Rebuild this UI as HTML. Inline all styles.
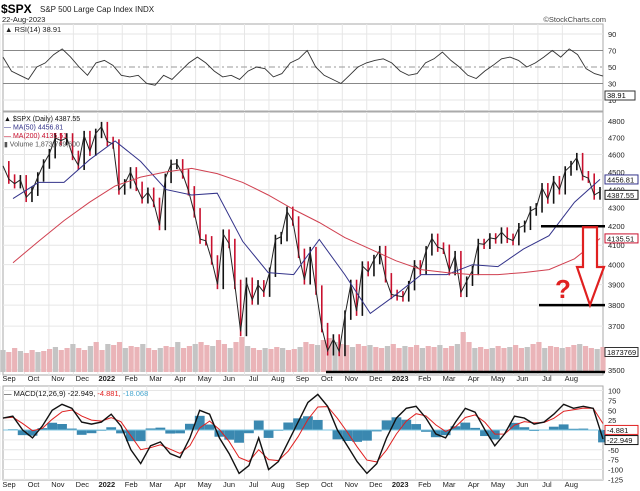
<!DOCTYPE html>
<html><head><meta charset="utf-8"><style>
body{margin:0;background:#fff;width:640px;height:491px;overflow:hidden;font-family:"Liberation Sans",sans-serif}
svg{display:block}
</style></head><body>
<svg id="c" width="640" height="491" viewBox="0 0 640 491" xmlns="http://www.w3.org/2000/svg" font-family="Liberation Sans, sans-serif"></svg>
<script>
const closes=[4535,4459,4433,4455,4357,4391,4471,4545,4605,4697,4682,4698,4595,4538,4712,4620,4725,4766,
4677,4662,4398,4432,4500,4418,4349,4385,4329,4204,4463,4543,4546,4488,4393,4272,4132,4123,4024,3901,4158,4109,3901,3675,3912,3825,3899,3863,3962,4130,4145,4280,4228,4058,3924,4067,3873,3693,3586,3640,3583,3752,3901,3771,3993,3965,4026,4072,3934,3852,3845,3840,
3895,3999,3973,4071,4136,4090,4079,3970,4046,3862,3917,3971,4109,4105,4138,4133,4169,4136,4124,4192,4205,4282,4299,4410,4348,4450,4399,4505,4536,4582,4478,4464,4370,4388];
const ma50=[4350,4440,4440,4570,4680,4560,4400,4370,4380,4120,3960,3950,4130,3950,3760,3850,3950,3950,4000,3990,4080,4150,4330,4457];
const ma200=[4010,4120,4230,4330,4420,4470,4500,4520,4490,4440,4370,4290,4220,4140,4080,4020,3975,3960,3950,3950,3960,3975,4030,4135];
const rsi=[62,45,40,35,50,55,65,72,62,50,40,55,58,52,40,38,40,30,28,40,35,45,55,62,55,45,38,40,35,45,50,48,38,42,55,60,70,50,40,35,30,40,50,55,58,60,55,45,40,42,55,60,68,58,50,40,36,45,52,60,62,58,50,55,62,70,62,72,65,48,42,39];
const macd=[30,35,0,-20,10,50,65,55,20,15,20,40,10,-50,-85,-40,-30,-60,-70,-20,50,40,-20,-60,-110,-90,-20,-100,-80,-30,20,70,90,60,0,-40,-80,-110,-85,-20,30,55,60,30,-10,-20,20,55,45,0,-40,-10,35,30,15,20,40,65,55,60,55,-23];
const volumes=[22,20,24,21,19,22,20,21,23,25,22,24,28,24,22,26,30,22,28,27,30,24,26,25,28,24,22,24,26,25,30,24,26,28,30,27,26,32,28,24,30,35,26,24,22,24,23,25,24,22,23,25,30,28,27,32,34,30,28,27,25,28,26,27,25,24,26,28,24,26,25,27,24,26,25,27,24,26,28,40,30,24,25,23,24,26,24,25,27,24,25,28,30,24,26,25,24,25,27,28,26,24,23,25];
const monthLabels=["Sep","Oct","Nov","Dec","2022","Feb","Mar","Apr","May","Jun","Jul","Aug","Sep","Oct","Nov","Dec","2023","Feb","Mar","Apr","May","Jun","Jul","Aug"];
const priceTicks=[4800,4700,4600,4500,4400,4300,4200,4100,4000,3900,3800,3700,3500];
const rsiTicks=[90,70,50,30,10];
const macdTicks=[100,75,50,25,-25,-50,-75,-100,-125];

const S=document.getElementById('c');const NS='http://www.w3.org/2000/svg';
function el(t,a,p){const e=document.createElementNS(NS,t);for(const k in a)e.setAttribute(k,a[k]);(p||S).appendChild(e);return e;}
const X0=3,X1=603;
const xw=i=>X0+i*(X1-3-X0)/(closes.length-1);
const xm=i=>X0+10+i*(X1-3-X0-10)/(ma50.length-1);
const mx=m=>6+m*24.45;
const yP=p=>121+788*(Math.log(4800)-Math.log(p));
const yR=v=>67-(v-50)*0.825;
const yM=v=>430-v*0.395;
const xs=(i,n)=>X0+i*(X1-X0)/(n-1);

let t=el('text',{x:1,y:13,'font-size':12,'font-weight':'bold'});t.textContent='$SPX';

t=el('text',{x:40,y:12,'font-size':8,fill:'#222'});t.textContent='S&P 500 Large Cap Index INDX';

t=el('text',{x:2,y:22,'font-size':7.5,fill:'#222'});t.textContent='22-Aug-2023';

t=el('text',{x:606,y:22,'font-size':7.5,fill:'#444','text-anchor':'end'});t.textContent='©StockCharts.com';


const panels=[[24,111,'rsi-panel'],[112,375,'price-panel'],[386,480,'macd-panel']];
panels.forEach(p=>{const r=el('rect',{x:X0,y:p[0],width:X1-X0,height:p[1]-p[0],fill:'#fff',stroke:'#aaa','stroke-width':1});
});
monthLabels.forEach((m,i)=>{[[24,111],[112,375],[386,480]].forEach(p=>{el('line',{x1:mx(i)-6,x2:mx(i)-6,y1:p[0],y2:p[1],stroke:'#e6e6e6'});});
[381,487].forEach(y=>{const tt=el('text',{x:mx(i)+3,y:y,'font-size':7.5,'text-anchor':'middle',fill:'#222','font-weight':m.length==4?'bold':'normal'});tt.textContent=m;
});});

rsiTicks.forEach(v=>{el('line',{x1:X0,x2:X1,y1:yR(v),y2:yR(v),stroke:(v==70||v==30)?'#888':(v==50?'#999':'#e6e6e6'),'stroke-dasharray':v==50?'6,3,2,3':'none'});
const tt=el('text',{x:608,y:yR(v)+3,'font-size':7.5,fill:'#222'});tt.textContent=v;});
let d=rsi.map((v,i)=>(i?'L':'M')+xs(i,rsi.length).toFixed(1)+','+yR(v).toFixed(1)).join('');
let pth=el('path',{d:d,fill:'none',stroke:'#333','stroke-width':0.9});
t=el('text',{x:5,y:32,'font-size':7.5,fill:'#222'});t.textContent='▲ RSI(14) 38.91';
el('rect',{x:605,y:91,width:30,height:9,fill:'#fff',stroke:'#333'});
t=el('text',{x:607,y:98,'font-size':7.5});t.textContent='38.91';

priceTicks.forEach(p=>{el('line',{x1:X0,x2:X1,y1:yP(p),y2:yP(p),stroke:'#e6e6e6'});
const tt=el('text',{x:608,y:yP(p)+3,'font-size':7.5,fill:'#222'});tt.textContent=p;});
volumes.forEach((v,i)=>{const r=el('rect',{x:xs(i,volumes.length)-2.6,y:372-v,width:5.2,height:v,fill:i%3==0?'#c4c4c4':'#eab4b8'});
});
closes.forEach((c,i)=>{if(!i)return;const p=closes[i-1];const hi=Math.max(c,p)*1.006,lo=Math.min(c,p)*0.994;
const ln=el('line',{x1:xw(i),x2:xw(i),y1:yP(hi),y2:yP(lo),stroke:c>=p?'#111':'#c8102e','stroke-width':1.6});
});
d=closes.map((c,i)=>(i?'L':'M')+xw(i).toFixed(1)+','+yP(c).toFixed(1)).join('');
pth=el('path',{d:d,fill:'none',stroke:'#222','stroke-width':1});
d=ma50.map((v,i)=>(i?'L':'M')+xm(i).toFixed(1)+','+yP(v).toFixed(1)).join('');
pth=el('path',{d:d,fill:'none',stroke:'#33338a','stroke-width':1});
d=ma200.map((v,i)=>(i?'L':'M')+xm(i).toFixed(1)+','+yP(v).toFixed(1)).join('');
pth=el('path',{d:d,fill:'none',stroke:'#d04050','stroke-width':1});
[['▲ $SPX (Daily) 4387.55','#111'],['— MA(50) 4456.81','#33338a'],['— MA(200) 4135.51','#c8102e'],['▮ Volume 1,873,769,600','#555']].forEach((l,i)=>{
const tt=el('text',{x:4,y:121+i*8.5,'font-size':7,fill:l[1]});tt.textContent=l[0];});
[[yP(4456.81),'4456.81','#33338a'],[yP(4387.55)+3,'4387.55','#111'],[yP(4135.51),'4135.51','#c8102e'],[352,'1873769','#333']].forEach(b=>{
el('rect',{x:605,y:b[0]-4.5,width:33,height:9,fill:'#fff',stroke:b[2]});
const tt=el('text',{x:607,y:b[0]+3,'font-size':7.5,fill:'#111'});tt.textContent=b[1];});
[[541,yP(4200)],[539,yP(3800)],[326,372]].forEach(a=>{const l=el('line',{x1:a[0],x2:605,y1:a[1],y2:a[1],stroke:'#000','stroke-width':2.5});
});
const ar=el('path',{d:`M583,${yP(4200)+1}L597,${yP(4200)+1}L597,267L604,267L590,${yP(3800)}L577,267L583,267Z`,fill:'#fff',stroke:'#e02020','stroke-width':2.2});

t=el('text',{x:563,y:298,'font-size':26,'font-weight':'bold',fill:'#e02020','text-anchor':'middle'});t.textContent='?';


macdTicks.forEach(v=>{el('line',{x1:X0,x2:X1,y1:yM(v),y2:yM(v),stroke:'#e6e6e6'});
const tt=el('text',{x:608,y:yM(v)+3,'font-size':7.5,fill:'#222'});tt.textContent=v;});
const sig=[];macd.forEach((v,i)=>sig.push(i?sig[i-1]+(v-sig[i-1])*0.5:v));
const n=macd.length;
macd.forEach((v,i)=>{const h=v-sig[i];const r=el('rect',{x:xs(i,n)-4.9,y:Math.min(yM(0),yM(h*0.8)),width:9.8,height:Math.abs(yM(h*0.8)-yM(0)),fill:'#3a88b0'});
});
el('line',{x1:X0,x2:X1,y1:yM(0),y2:yM(0),stroke:'#7fc6e0'});
d=sig.map((v,i)=>(i?'L':'M')+xs(i,n).toFixed(1)+','+yM(v).toFixed(1)).join('');
pth=el('path',{d:d,fill:'none',stroke:'#e02020','stroke-width':1});
d=macd.map((v,i)=>(i?'L':'M')+xs(i,n).toFixed(1)+','+yM(v).toFixed(1)).join('');
pth=el('path',{d:d,fill:'none',stroke:'#111','stroke-width':1.4});
t=el('text',{x:4,y:396,'font-size':7.5,fill:'#111'});t.textContent='— MACD(12,26,9) -22.949, ';
let ts=el('tspan',{fill:'#e02020'},t);ts.textContent='-4.881, ';ts=el('tspan',{fill:'#4aa8d0'},t);ts.textContent='-18.068';
[[yM(-4.881)-2,'-4.881','#e02020'],[yM(-22.949)+1,'-22.949','#111']].forEach(b=>{el('rect',{x:605,y:b[0]-4.5,width:33,height:9,fill:'#fff',stroke:b[2]});
const tt=el('text',{x:607,y:b[0]+3,'font-size':7.5,fill:'#111'});tt.textContent=b[1];});
</script>
</body></html>
